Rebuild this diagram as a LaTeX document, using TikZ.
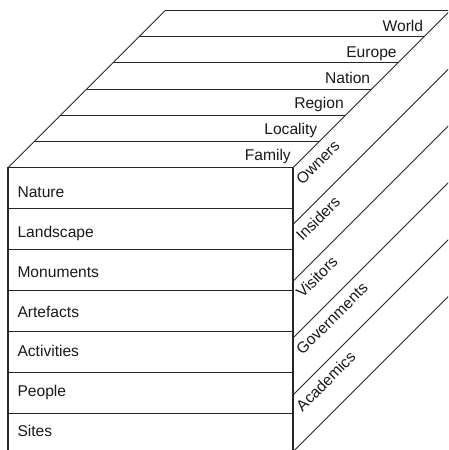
\documentclass[tikz,border=0pt]{standalone}
\usepackage{fontspec}
\setmainfont{Liberation Sans}
\begin{document}
\begin{tikzpicture}[x=1pt,y=-1pt,
  edge/.style={line width=0.9pt, draw=black!85},
  frame/.style={line width=1.1pt, draw=black!85},
  lbl/.style={font=\fontsize{15.6}{18}\selectfont, inner sep=0pt, text=black!90}]
\useasboundingbox (0,0) rectangle (448,450);
\clip (0,0) rectangle (448,450);

% cube corners (depth drawn at 45 degrees)
\coordinate (ftl) at (8,167.7);
\coordinate (ftr) at (293,167.7);
\coordinate (fbl) at (8,470);
\coordinate (fbr) at (293,470);
\coordinate (btl) at (165.3,10.4);
\coordinate (btr) at (450.3,10.4);

% top face: six horizontal strips
\foreach \k in {0,...,6}
  \draw[edge] ({8+26.22*\k},{167.7-26.22*\k}) -- ({293+26.22*\k},{167.7-26.22*\k});
\draw[edge] (ftl) -- (btl);
\draw[edge] (ftr) -- (btr);

% right face: diagonal strips
\foreach \k in {1,...,5}
  \draw[edge] (293,{167.7+56.8*\k}) -- (450.3,{10.4+56.8*\k});

% front face: rows
\foreach \k in {1,...,6}
  \draw[edge] (8,{167.7+40.93*\k}) -- (293,{167.7+40.93*\k});
\draw[frame] (fbl) -- (ftl) -- (ftr) -- (fbr);

% front labels
\foreach \t [count=\i from 0] in {Nature,Landscape,Monuments,Artefacts,Activities,People,Sites}
  \node[lbl, anchor=base west] (row\i) at (17.3,{197.3+39.9*\i}) {\t};

% top labels
\foreach \t [count=\i from 0] in {Family,Locality,Region,Nation,Europe,World}
  \node[lbl, anchor=base east] (lvl\i) at ({291+26.46*\i},{160-25.66*\i}) {\t};

% right labels
\foreach \t [count=\i from 0] in {Owners,Insiders,Visitors,Governments,Academics}
  \node[lbl, anchor=base west, rotate=45] (grp\i) at (302.5,{185.2+56.8*\i}) {\t};
\end{tikzpicture}
\end{document}
